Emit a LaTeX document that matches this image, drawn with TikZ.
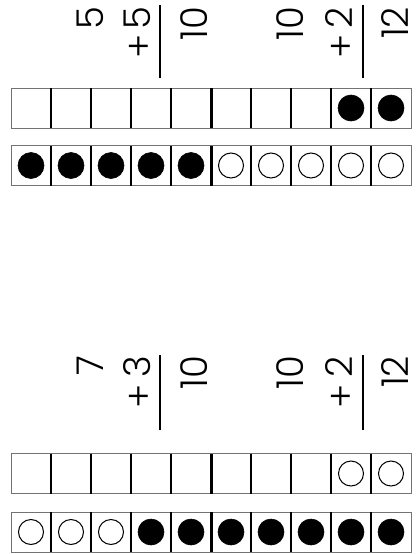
\documentclass[tikz,border=0pt]{standalone}
\usepackage{fontspec}
\IfFontExistsTF{Poppins Light}{\setmainfont{Poppins Light}}{\setmainfont{Poppins}}
\begin{document}
\begin{tikzpicture}[x=1pt,y=-1pt,
  cellbox/.style={draw=black!55, line width=0.8pt, minimum width=40pt, minimum height=40pt, inner sep=0pt, outer sep=0pt},
  divider/.style={black, line width=1.3pt},
  middivider/.style={black, line width=3pt},
  fulldot/.style={circle, fill=black, draw=black, line width=0.6pt, minimum size=26pt, inner sep=0pt},
  opendot/.style={circle, draw=black, line width=1pt, minimum size=25pt, inner sep=0pt},
  num/.style={font=\fontsize{37}{37}\selectfont, inner sep=0pt, outer sep=0pt, rotate=90, anchor=base east},
  plus/.style={font=\fontsize{37}{37}\selectfont, inner sep=0pt, outer sep=0pt, rotate=90},
  rule/.style={black, line width=1.3pt}]
\useasboundingbox (0,0) rectangle (417,554);
\fill[white] (0,0) rectangle (417,554);
% ten frames
\foreach \r/\y in {1/108,2/165.5,3/473.5,4/532}
  \foreach \c in {1,...,10}
    \node[cellbox] (r\r-\c) at ({-9+40*\c},\y) {};
\foreach \r in {1,...,4} {
  \foreach \c in {1,2,3,4,6,7,8,9}
    \draw[divider] (r\r-\c.north east) -- (r\r-\c.south east);
  \draw[middivider] (r\r-5.north east) -- (r\r-5.south east);
}
% counters
\foreach \c in {9,10} \node[fulldot] (f1-\c) at (r1-\c) {};
\foreach \c in {1,...,5} \node[fulldot] (f2-\c) at (r2-\c) {};
\foreach \c in {6,...,10} \node[opendot] (o2-\c) at (r2-\c) {};
\foreach \c in {9,10} \node[opendot] (o3-\c) at (r3-\c) {};
\foreach \c in {1,2,3} \node[opendot] (o4-\c) at (r4-\c) {};
\foreach \c in {4,...,10} \node[fulldot] (f4-\c) at (r4-\c) {};
% top sums
\node[num] (ta1) at (103,7) {5};
\node[num] (ta2) at (150,7) {5};
\node[plus] (tap) at (141,46) {+};
\node[num] (ta3) at (207,7) {10};
\coordinate (tal1) at (160,5);
\coordinate (tal2) at (160,78);
\draw[rule] (tal1) -- (tal2);
\node[num] (tb1) at (303,7) {10};
\node[num] (tb2) at (352,7) {2};
\node[plus] (tbp) at (343,46) {+};
\node[num] (tb3) at (408,7) {12};
\coordinate (tbl1) at (363,5);
\coordinate (tbl2) at (363,78);
\draw[rule] (tbl1) -- (tbl2);
% bottom sums
\node[num] (ba1) at (103,356) {7};
\node[num] (ba2) at (150,356) {3};
\node[plus] (bap) at (141,396) {+};
\node[num] (ba3) at (207,356) {10};
\coordinate (bal1) at (160,355);
\coordinate (bal2) at (160,430);
\draw[rule] (bal1) -- (bal2);
\node[num] (bb1) at (303,356) {10};
\node[num] (bb2) at (352,356) {2};
\node[plus] (bbp) at (343,396) {+};
\node[num] (bb3) at (408,356) {12};
\coordinate (bbl1) at (363,355);
\coordinate (bbl2) at (363,430);
\draw[rule] (bbl1) -- (bbl2);
\end{tikzpicture}
\end{document}
